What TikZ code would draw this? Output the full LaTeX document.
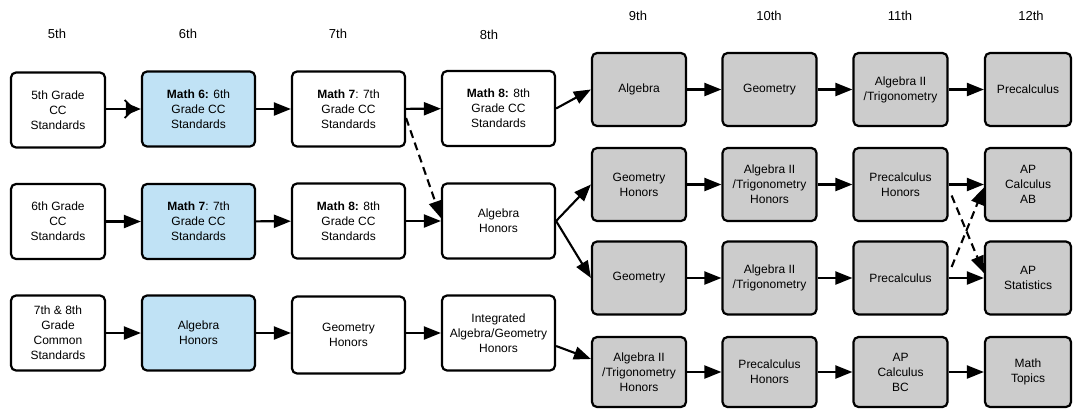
\documentclass[tikz,border=0pt]{standalone}
\usepackage{fontspec}
\setmainfont{Liberation Sans}
\usetikzlibrary{arrows.meta,calc}
\definecolor{boxblue}{HTML}{C0E2F5}
\definecolor{boxgray}{HTML}{CCCCCC}
\begin{document}
\begin{tikzpicture}[x=1pt,y=-1pt,
  every node/.style={font=\fontsize{12}{15}\selectfont, align=center, inner sep=0pt},
  wbox/.style={draw=black, line width=2.2pt, rounded corners=5pt, fill=white},
  lbox/.style={wbox, minimum width=113pt, minimum height=75pt},
  sbox/.style={lbox, minimum width=94pt},
  gbox/.style={wbox, fill=boxgray, minimum width=94pt, minimum height=73pt},
  hdr/.style={font=\fontsize{13}{15}\selectfont},
  arr/.style={line width=2.1pt, -{Triangle[length=17pt,width=13pt]}},
  darr/.style={arr, dash pattern=on 8pt off 5pt},
  dblarr/.style={line width=2.1pt, -{Straight Barb[length=9pt,width=18pt,line width=1.8pt,sep=-9pt] Triangle[length=15pt,width=12pt]}}]
\useasboundingbox (0,0) rectangle (1073,408);

% headers
\node[hdr] (h5) at (57,34) {5th};
\node[hdr] (h6) at (188,34) {6th};
\node[hdr] (h7) at (338,34) {7th};
\node[hdr] (h8) at (489,35) {8th};
\node[hdr] (h9) at (638,16) {9th};
\node[hdr] (h10) at (769,16) {10th};
\node[hdr] (h11) at (900,16) {11th};
\node[hdr] (h12) at (1031,16) {12th};

% left block, row 1
\node[sbox] (g5) at (58,110) {5th Grade\\CC\\Standards};
\node[lbox, fill=boxblue] (m6) at (198.5,109) {\textbf{Math 6:} 6th\\Grade CC\\Standards};
\node[lbox] (m7a) at (348.5,109) {\textbf{Math 7}: 7th\\Grade CC\\Standards};
\node[lbox] (m8a) at (498.5,108.5) {\textbf{Math 8:} 8th\\Grade CC\\Standards};
% row 2
\node[sbox] (g6) at (58,221.5) {6th Grade\\CC\\Standards};
\node[lbox, fill=boxblue] (m7b) at (198.5,221.5) {\textbf{Math 7}: 7th\\Grade CC\\Standards};
\node[lbox] (m8b) at (348.5,221) {\textbf{Math 8:} 8th\\Grade CC\\Standards};
\node[lbox] (ahb) at (498.5,221) {Algebra\\Honors};
% row 3
\node[sbox] (g78) at (58,333) {7th \& 8th\\Grade\\Common\\Standards};
\node[lbox, fill=boxblue] (ahc) at (198.5,333) {Algebra\\Honors};
\node[lbox, minimum height=77pt] (ghc) at (348.5,335) {Geometry\\Honors};
\node[lbox] (iag) at (498.5,333) {Integrated\\Algebra/Geometry\\Honors};

% right block, row 1
\node[gbox] (alg) at (639,89.5) {Algebra};
\node[gbox] (geo) at (769.5,89.5) {Geometry};
\node[gbox] (a2t) at (900.5,89.5) {Algebra II\\/Trigonometry};
\node[gbox, minimum width=86pt] (pre) at (1028,89.5) {Precalculus};
% row 2
\node[gbox] (geoh) at (639,184.5) {Geometry\\Honors};
\node[gbox] (a2th) at (769.5,184.5) {Algebra II\\/Trigonometry\\Honors};
\node[gbox] (preh) at (900.5,184.5) {Precalculus\\Honors};
\node[gbox, minimum width=86pt] (apab) at (1028,184.5) {AP\\Calculus\\AB};
% row 3
\node[gbox] (geo3) at (639,278) {Geometry};
\node[gbox] (a2t3) at (769.5,278) {Algebra II\\/Trigonometry};
\node[gbox] (pre3) at (900.5,278) {Precalculus};
\node[gbox, minimum width=86pt] (aps) at (1028,278) {AP\\Statistics};
% row 4
\node[gbox, minimum height=70pt] (a2th4) at (639,372) {Algebra II\\/Trigonometry\\Honors};
\node[gbox, minimum height=70pt] (preh4) at (769.5,372) {Precalculus\\Honors};
\node[gbox, minimum height=70pt] (apbc) at (900.5,372) {AP\\Calculus\\BC};
\node[gbox, minimum height=70pt, minimum width=86pt] (mt) at (1028,372) {Math\\Topics};

% connectors, left block
\draw[dblarr] (g5.east |- m6.west) -- (m6.west);
\draw[arr] (m6) -- (m7a);
\draw[arr] (m7a) -- (m8a);
\draw[arr] (m8a.east) -- (alg.west);
\draw[darr] ($(m7a.east)+(0,9)$) -- ($(ahb.west)+(0,-3)$);

\draw[arr] (g6) -- (m7b);
\draw[arr] (m7b) -- (m8b);
\draw[arr] (m8b) -- (ahb);
\draw[arr] (ahb.east) -- (geoh.west);
\draw[arr] (ahb.east) -- (geo3.west);

\draw[arr] (g78) -- (ahc);
\draw[arr] (ahc) -- (ghc.west |- ahc.east);
\draw[arr] (ghc.east |- iag.west) -- (iag.west);
\draw[arr] ($(iag.east)+(0,13)$) -- ($(a2th4.west)+(0,-13)$);

% connectors, right block
\draw[arr] (alg) -- (geo);
\draw[arr] (geo) -- (a2t);
\draw[arr] (a2t) -- (pre);

\draw[arr] (geoh) -- (a2th);
\draw[arr] (a2th) -- (preh);
\draw[arr] (preh) -- (apab);

\draw[arr] (geo3) -- (a2t3);
\draw[arr] (a2t3) -- (pre3);
\draw[arr] (pre3) -- (aps);

\draw[arr] (a2th4) -- (preh4);
\draw[arr] (preh4) -- (apbc);
\draw[arr] (apbc) -- (mt);

\draw[darr] ($(preh.east)+(3,11)$) -- ($(aps.west)+(0,-5)$);
\draw[darr] ($(pre3.east)+(3,-11)$) -- ($(apab.west)+(0,3)$);
\end{tikzpicture}
\end{document}
